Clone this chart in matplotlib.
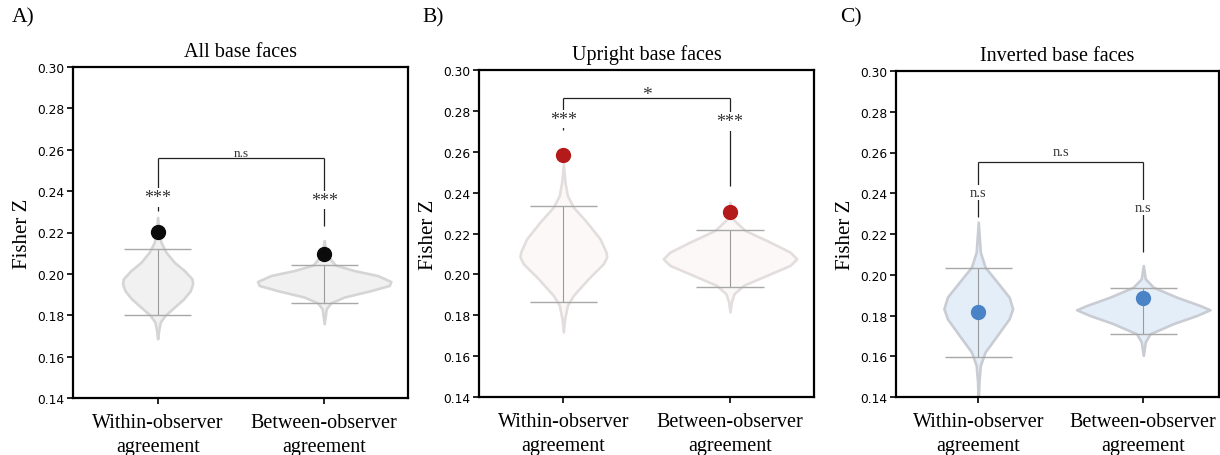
import matplotlib
matplotlib.use("Agg")
import matplotlib.pyplot as plt
import numpy as np

# ---------------- data ----------------
categories = ["Within-observer\nagreement", "Between-observer\nagreement"]
panel_letters = ["A)", "B)", "C)"]
titles = ["All base faces", "Upright base faces", "Inverted base faces"]
y_ticks = [0.14, 0.16, 0.18, 0.20, 0.22, 0.24, 0.26, 0.28, 0.30]
y_tick_labels = ["0.14", "0.16", "0.18", "0.20", "0.22", "0.24", "0.26", "0.28", "0.30"]

# observed agreement (dots)
observed_all = [0.2201, 0.2096]
observed_upright = [0.2585, 0.2304]
observed_inverted = [0.1816, 0.1887]

# null-distribution extremes (whisker bars)
null_min_all = [0.1802, 0.1860]
null_max_all = [0.2119, 0.2043]
null_min_upright = [0.1864, 0.1936]
null_max_upright = [0.2334, 0.2218]
null_min_inverted = [0.1596, 0.1710]
null_max_inverted = [0.2032, 0.1937]

# null-distribution density profiles (Fisher Z value, relative density)
all_within_z = [0.2273, 0.2201, 0.2153, 0.2105, 0.2056, 0.2016, 0.1976, 0.1952,
                0.1919, 0.1879, 0.1839, 0.1799, 0.1767, 0.1726, 0.1686]
all_within_d = [0, 4, 10, 25, 50, 80, 103, 105, 98, 78, 50, 22, 8, 3, 0]
all_between_z = [0.2161, 0.2096, 0.2043, 0.2016, 0.1992, 0.1963, 0.1944, 0.1919,
                 0.1888, 0.1860, 0.1831, 0.1759]
all_between_d = [0, 6, 33, 90, 160, 200, 195, 140, 60, 20, 6, 0]

upright_within_z = [0.2540, 0.2451, 0.2386, 0.2329, 0.2256, 0.2174, 0.2109, 0.2085,
                    0.2052, 0.1979, 0.1897, 0.1848, 0.1783, 0.1718]
upright_within_d = [0, 5, 12, 30, 70, 110, 128, 130, 120, 75, 30, 12, 4, 0]
upright_between_z = [0.2353, 0.2272, 0.2215, 0.2158, 0.2109, 0.2076, 0.2044, 0.1995,
                     0.1946, 0.1905, 0.1865, 0.1816]
upright_between_d = [0, 8, 45, 120, 180, 200, 180, 110, 40, 12, 4, 0]

inverted_within_z = [0.2258, 0.2111, 0.2037, 0.1964, 0.1890, 0.1833, 0.1784, 0.1702,
                     0.1621, 0.1555, 0.1474, 0.1380]
inverted_within_d = [0, 6, 20, 55, 90, 100, 90, 55, 20, 6, 2, 0]
inverted_between_z = [0.2045, 0.1980, 0.1939, 0.1890, 0.1849, 0.1828, 0.1800, 0.1760,
                      0.1710, 0.1670, 0.1604]
inverted_between_d = [0, 6, 30, 100, 170, 200, 160, 90, 20, 6, 0]

# significance labels
sig_each_all = ["***", "***"]
sig_pair_all = "n.s"
sig_each_upright = ["***", "***"]
sig_pair_upright = "*"
sig_each_inverted = ["n.s", "n.s"]
sig_pair_inverted = "n.s"

# ---------------- figure ----------------
W, H = 1220, 456
fig = plt.figure(figsize=(W / 100, H / 100), dpi=100)
SERIF = ["Liberation Serif", "DejaVu Serif"]
SANS = ["DejaVu Sans"]


def px_axes(l, r, t, b):
    return fig.add_axes([l / W, 1 - b / H, (r - l) / W, (b - t) / H])


panels = [
    dict(box=(73, 408, 68, 399), xlim=(-0.505, 1.494),
         obs=observed_all, mn=null_min_all, mx=null_max_all,
         prof=[(all_within_z, all_within_d), (all_between_z, all_between_d)],
         widths=[0.418, 0.796], face="#f1f1f1", edge="#d5d5d5", dot="#0b0b0b",
         each=sig_each_all, pair=sig_pair_all,
         line_lo=[0.2302, 0.2233], text_y=[0.2370, 0.2356], bracket=0.2558,
         pair_y=0.2585, pair_fs=9.5, each_fs=13, letter_x=12),
    dict(box=(479, 814, 71, 398), xlim=(-0.503, 1.495),
         obs=observed_upright, mn=null_min_upright, mx=null_max_upright,
         prof=[(upright_within_z, upright_within_d), (upright_between_z, upright_between_d)],
         widths=[0.517, 0.796], face="#fcf8f8", edge="#e3dddd", dot="#b51a1b",
         each=sig_each_upright, pair=sig_pair_upright,
         line_lo=[0.2708, 0.2430], text_y=[0.2760, 0.2748], bracket=0.2865,
         pair_y=0.2880, pair_fs=14, each_fs=13, letter_x=422),
    dict(box=(896, 1219, 72, 398), xlim=(-0.491, 1.437),
         obs=observed_inverted, mn=null_min_inverted, mx=null_max_inverted,
         prof=[(inverted_within_z, inverted_within_d), (inverted_between_z, inverted_between_d)],
         widths=[0.41, 0.796], face="#e4eef9", edge="#c9ccd3", dot="#4a84c6",
         each=sig_each_inverted, pair=sig_pair_inverted,
         line_lo=[0.2282, 0.2110], text_y=[0.2404, 0.2330], bracket=0.2554,
         pair_y=0.2605, pair_fs=10.5, each_fs=10.5, letter_x=840),
]

for i, p in enumerate(panels):
    ax = px_axes(*p["box"])
    positions = [0, 0.985] if i == 2 else [0, 0.994]
    stats = []
    for (z, d), o in zip(p["prof"], p["obs"]):
        stats.append(dict(coords=np.array(z), vals=np.array(d, dtype=float),
                          mean=np.mean(z), median=np.median(z),
                          min=min(z), max=max(z)))
    parts = ax.violin(stats, positions=positions, widths=p["widths"],
                      showmeans=False, showextrema=False, showmedians=False)
    for body in parts["bodies"]:
        body.set_facecolor(p["face"])
        body.set_edgecolor(p["edge"])
        body.set_linewidth(1.9)
        body.set_alpha(1)
        body.set_zorder(1)
    # whiskers
    for x, lo, hi in zip(positions, p["mn"], p["mx"]):
        ax.vlines(x, lo, hi, color="#9a9a9a", lw=0.8, zorder=2)
        ax.hlines([lo, hi], x - 0.2, x + 0.2, color="#a8a8a8", lw=1.0, zorder=2)
    # observed dots
    ax.plot(positions, p["obs"], "o", ms=10, color=p["dot"], mec=p["dot"], zorder=4)
    # significance annotations
    b = p["bracket"]
    for x, lo, ty, s in zip(positions, p["line_lo"], p["text_y"], p["each"]):
        ax.vlines(x, lo, b, color="#222222", lw=0.9, zorder=3)
        ax.text(x, ty, s, ha="center", va="center", fontsize=p["each_fs"],
                family=SERIF, color="#333333", zorder=5,
                bbox=dict(facecolor="white", edgecolor="none", pad=0.5))
    ax.hlines(b, positions[0], positions[1], color="#222222", lw=0.9, zorder=3)
    ax.text(np.mean(positions), p["pair_y"], p["pair"], ha="center", va="center",
            fontsize=p["pair_fs"], family=SERIF, color="#333333")

    ax.set_xlim(*p["xlim"])
    ax.set_ylim(0.14, 0.30)
    ax.set_yticks(y_ticks)
    ax.set_yticklabels(y_tick_labels, family=SANS, fontsize=8.8)
    ax.set_xticks(positions)
    ax.set_xticklabels(categories, family=SERIF, fontsize=14.5, linespacing=1.35)
    ax.tick_params(axis="y", length=4, width=1.2, pad=2)
    ax.tick_params(axis="x", length=4, width=1.2, pad=7)
    for sp in ax.spines.values():
        sp.set_linewidth(1.6)
        sp.set_color("black")
    ax.set_ylabel("Fisher Z", family=SERIF, fontsize=15, labelpad=4)
    ax.set_title(titles[i], family=SERIF, fontsize=14.5, pad=8)
    fig.text(p["letter_x"] / W, 1 - 18 / H, panel_letters[i], family=SERIF,
             fontsize=15.5, ha="left", va="center")

fig.savefig("out.png", dpi=100, facecolor="white")
